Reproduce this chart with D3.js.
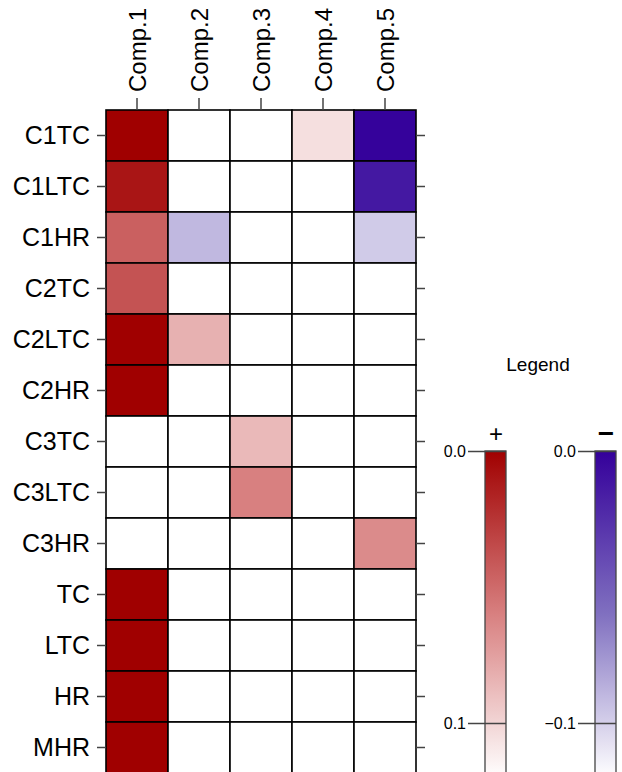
<!DOCTYPE html>
<html lang="en">
<head>
  <meta charset="UTF-8">
  <title>Loadings heatmap</title>
  <script src="https://d3js.org/d3.v7.min.js"></script>
  <style>
    body { margin: 0; overflow: hidden; background: #fff; }
    svg { display: block; }
    text { font-family: "Liberation Sans", Arial, sans-serif; fill: #000; }
    .tick line { stroke: #444; stroke-width: 1.5px; }
    .domain { display: none; }
  </style>
</head>
<body>
<svg width="622" height="772"></svg>
<script>
const comps = ["Comp.1", "Comp.2", "Comp.3", "Comp.4", "Comp.5"];
const rows = ["C1TC", "C1LTC", "C1HR", "C2TC", "C2LTC", "C2HR", "C3TC", "C3LTC", "C3HR", "TC", "LTC", "HR", "MHR"];

// loadings per row (null = blank cell); positive -> red, negative -> blue
const c1TC  = [0.000, null, null, 0.105, -0.001];
const c1LTC = [0.010, null, null, null, -0.013];
const c1HR  = [0.045, -0.090, null, null, -0.098];
const c2TC  = [0.039, null, null, null, null];
const c2LTC = [0.000, 0.083, null, null, null];
const c2HR  = [0.000, null, null, null, null];
const c3TC  = [null, null, 0.087, null, null];
const c3LTC = [null, null, 0.060, null, null];
const c3HR  = [null, null, null, null, 0.065];
const tc    = [0.000, null, null, null, null];
const ltc   = [0.000, null, null, null, null];
const hr    = [0.000, null, null, null, null];
const mhr   = [0.000, null, null, null, null];
const values = [c1TC, c1LTC, c1HR, c2TC, c2LTC, c2HR, c3TC, c3LTC, c3HR, tc, ltc, hr, mhr];

const legendTicks = [0, 0.1];

const svg = d3.select("svg");

const x = d3.scaleBand().domain(comps).range([106, 416]);
const y = d3.scaleBand().domain(rows).range([110, 110 + 51 * rows.length]);

const posColor = d3.scaleLinear().domain([0, 0.06, 0.12]).range(["#a00000", "#d88080", "#ffffff"]).clamp(true);
const negColor = d3.scaleLinear().domain([0, 0.06, 0.12]).range(["#34009a", "#8070c0", "#ffffff"]).clamp(true);

const cells = [];
values.forEach((r, i) => r.forEach((v, j) => {
  cells.push({ row: rows[i], comp: comps[j], v: v });
}));

svg.append("g")
  .selectAll("rect")
  .data(cells)
  .enter().append("rect")
  .attr("x", d => x(d.comp))
  .attr("y", d => y(d.row))
  .attr("width", x.bandwidth())
  .attr("height", y.bandwidth())
  .attr("fill", d => d.v === null ? "#fff" : (d.v < 0 ? negColor(-d.v) : posColor(d.v)))
  .attr("stroke", "#000")
  .attr("stroke-width", 1.6);

// axes
const topAxis = svg.append("g")
  .attr("transform", "translate(0,110)")
  .call(d3.axisTop(x).tickSize(12));
topAxis.selectAll("text")
  .attr("transform", "rotate(-90)")
  .attr("text-anchor", "start")
  .attr("x", 18)
  .attr("y", 0)
  .attr("dy", "0.36em")
  .style("font-size", "24px");

svg.append("g")
  .attr("transform", "translate(106,0)")
  .call(d3.axisLeft(y).tickSize(9).tickPadding(7))
  .selectAll("text")
  .style("font-size", "25px");

svg.append("g")
  .attr("transform", "translate(416,0)")
  .call(d3.axisRight(y).tickSize(9).tickFormat(""));

// legend
const ly = d3.scaleLinear().domain([0, 0.1]).range([451, 723]);
const defs = svg.append("defs");
function gradient(id, scale) {
  const g = defs.append("linearGradient").attr("id", id)
    .attr("x1", 0).attr("y1", 0).attr("x2", 0).attr("y2", 1);
  d3.range(0, 1.0001, 0.05).forEach(t => {
    g.append("stop").attr("offset", t).attr("stop-color", scale(t * 0.12));
  });
}
gradient("gradPos", posColor);
gradient("gradNeg", negColor);

svg.append("text")
  .attr("x", 538).attr("y", 371)
  .attr("text-anchor", "middle")
  .style("font-size", "19px")
  .text("Legend");

function legendBar(x0, grad, sign) {
  svg.append("rect")
    .attr("x", x0).attr("y", ly(0))
    .attr("width", 21).attr("height", ly(0.12) - ly(0))
    .attr("fill", `url(#${grad})`)
    .attr("stroke", "#444")
    .attr("stroke-width", 1.3);
  const ax = svg.append("g")
    .attr("transform", `translate(${x0 + 21},0)`)
    .call(d3.axisLeft(ly).tickValues(legendTicks).tickSize(38).tickPadding(2)
      .tickFormat(d => d3.format(".1f")(d * sign)));
  ax.selectAll("line").attr("stroke", "#000").attr("stroke-width", 1.2);
  ax.selectAll("text").style("font-size", "16px");
}
legendBar(485, "gradPos", 1);
legendBar(595, "gradNeg", -1);

svg.append("text")
  .attr("x", 496).attr("y", 442)
  .attr("text-anchor", "middle")
  .style("font-size", "24px")
  .text("+");
svg.append("text")
  .attr("x", 606).attr("y", 443)
  .attr("text-anchor", "middle")
  .style("font-size", "28px")
  .style("font-weight", "bold")
  .text("\u2212");
</script>
</body>
</html>
